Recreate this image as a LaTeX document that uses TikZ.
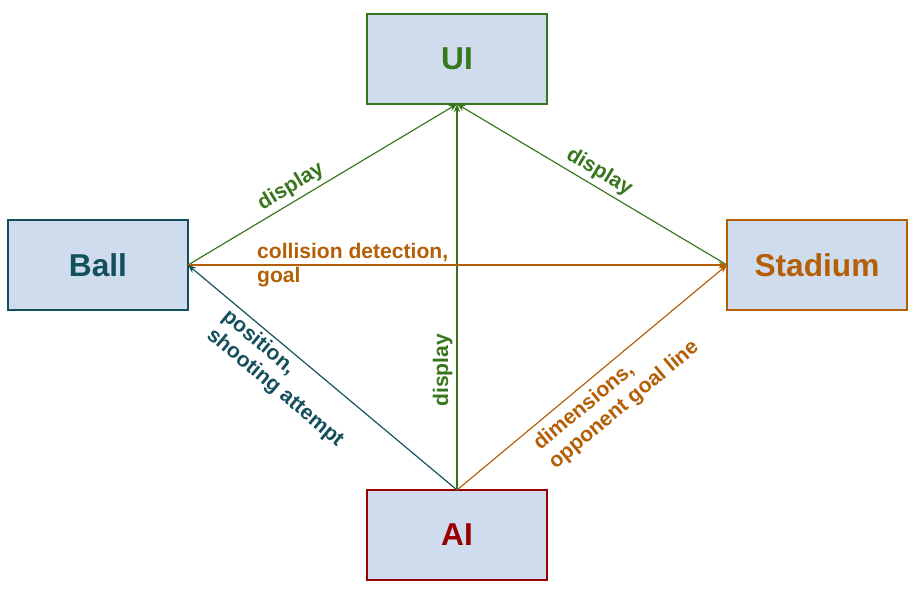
\documentclass[tikz,border=0pt]{standalone}
\usepackage{fontspec}
\setmainfont{Liberation Sans}
\usepackage{tikz}
\usetikzlibrary{arrows.meta,positioning}
\definecolor{boxfill}{HTML}{CFDCEE}
\definecolor{ugreen}{HTML}{38761D}
\definecolor{uorange}{HTML}{B45F06}
\definecolor{uteal}{HTML}{134F5C}
\definecolor{ured}{HTML}{990000}

\begin{document}
\begin{tikzpicture}[x=0.03cm,y=-0.03cm,
  box/.style={draw, fill=boxfill, line width=1pt, minimum width=5.4cm, minimum height=2.7cm,
    inner sep=0pt, outer sep=0pt, font=\fontsize{27}{30}\selectfont\bfseries},
  lbl/.style={font=\fontsize{18}{20.5}\selectfont\bfseries, align=left},
  link/.style={line width=1pt, -{Stealth[length=7pt,width=5.5pt]}}]
  \useasboundingbox (0,0) rectangle (922,592);
  % boxes
  \node[box, draw=ugreen, text=ugreen] (ui) at (457,59) {UI};
  \node[box, draw=uteal, text=uteal] (ball) at (98,265) {Ball};
  \node[box, draw=uorange, text=uorange] (stadium) at (817,265) {Stadium};
  \node[box, draw=ured, text=ured] (ai) at (457,535) {AI};
  % display links
  \draw[link, ugreen] (ball.east) -- node[lbl, pos=0.41, sloped, above] {display} (ui.south);
  \draw[link, ugreen] (stadium.west) -- node[lbl, pos=0.5, sloped, above] {display} (ui.south);
  \draw[link, ugreen] (ai.north) -- node[lbl, pos=0.31, sloped, above] {display} (ui.south);
  % ball -> stadium
  \draw[link, uorange] (ball.east) -- node[lbl, pos=0.12, anchor=west, text=uorange] {collision detection,\\goal} (stadium.west);
  % AI links
  \draw[link, uteal] (ai.north) -- node[lbl, pos=0.585, sloped, below] {position,\\shooting attempt} (ball.east);
  \draw[link, uorange] (ai.north) -- node[lbl, pos=0.52, sloped, below=3pt] {dimensions,\\opponent goal line} (stadium.west);
\end{tikzpicture}
\end{document}
